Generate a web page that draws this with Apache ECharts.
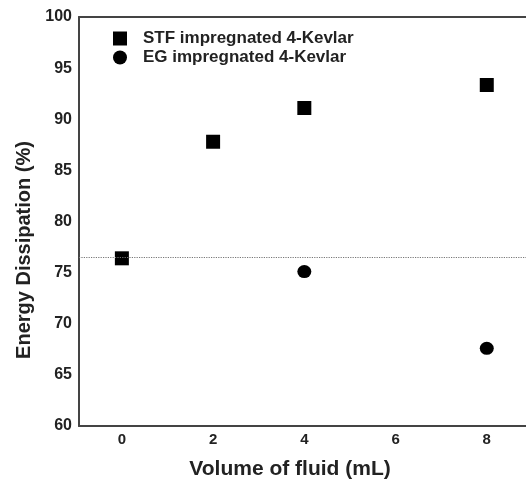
<!DOCTYPE html>
<html><head><meta charset="utf-8">
<script src="https://cdn.jsdelivr.net/npm/echarts@6/dist/echarts.min.js"></script>
<style>html,body{margin:0;padding:0;background:#fff}#c{width:526px;height:483px}</style>
</head><body><div id="c"></div>
<script>
const xTicks = [0, 2, 4, 6, 8];
const stfX = [0, 2, 4, 8];
const stfY = [76.4, 87.8, 91.1, 93.35];
const egX = [4, 8];
const egY = [75.1, 67.6];
const refLine = 76.5;
const seriesNames = ['STF impregnated 4-Kevlar', 'EG impregnated 4-Kevlar'];
const xTitle = 'Volume of fluid (mL)';
const yTitle = 'Energy Dissipation (%)';

const font = 'Liberation Sans, Arial, sans-serif';
const chart = echarts.init(document.getElementById('c'));
chart.setOption({
  animation: false,
  textStyle: { fontFamily: font },
  grid: { left: 79, top: 17, right: 0, bottom: 57, containLabel: false },
  legend: {
    orient: 'vertical', left: 113, top: 30, padding: 0, itemWidth: 14, itemHeight: 14, itemGap: 2,
    textStyle: { fontFamily: font, fontSize: 17, lineHeight: 17, fontWeight: 'bold', color: '#222', padding: [0, 0, 0, 11] },
    itemStyle: { opacity: 1 },
    data: [{ name: seriesNames[0], icon: 'rect' }, { name: seriesNames[1], icon: 'circle' }]
  },
  graphic: [{
    type: 'text', x: 24, y: 250, rotation: Math.PI / 2,
    style: { text: yTitle, font: 'bold 20px ' + font, fill: '#222', textAlign: 'center', textVerticalAlign: 'middle' }
  }, {
    type: 'text', x: 290, y: 469,
    style: { text: xTitle, font: 'bold 21px ' + font, fill: '#222', textAlign: 'center', textVerticalAlign: 'middle' }
  }],
  xAxis: [{
    type: 'value', min: -0.94, max: 8.86, position: 'bottom',
    axisLine: { show: true, onZero: false, lineStyle: { color: '#444', width: 2 } },
    axisTick: { show: false }, splitLine: { show: false },
    axisLabel: { customValues: xTicks, color: '#222', fontSize: 15, fontWeight: 'bold', margin: 6, fontFamily: font }
  }, {
    type: 'value', min: -0.94, max: 8.86, position: 'top',
    axisLine: { show: true, onZero: false, lineStyle: { color: '#444', width: 2 } },
    axisTick: { show: false }, axisLabel: { show: false }, splitLine: { show: false }
  }],
  yAxis: {
    type: 'value', min: 60, max: 100, interval: 5,
    axisLine: { show: true, onZero: false, lineStyle: { color: '#444', width: 2 } },
    axisTick: { show: false }, splitLine: { show: false },
    axisLabel: { color: '#222', fontSize: 16, fontWeight: 'bold', margin: 7, fontFamily: font }
  },
  series: [{
    name: seriesNames[0], type: 'scatter', symbol: 'rect', symbolSize: [14, 14],
    itemStyle: { color: '#000', opacity: 1 },
    data: stfX.map((x, i) => [x, stfY[i]]),
    markLine: {
      silent: true, symbol: 'none', label: { show: false },
      lineStyle: { type: 'dotted', color: '#777', width: 1.2 },
      data: [{ yAxis: refLine }]
    }
  }, {
    name: seriesNames[1], type: 'scatter', symbol: 'circle', symbolSize: [14, 13],
    itemStyle: { color: '#000', opacity: 1 },
    data: egX.map((x, i) => [x, egY[i]])
  }]
});
</script></body></html>
